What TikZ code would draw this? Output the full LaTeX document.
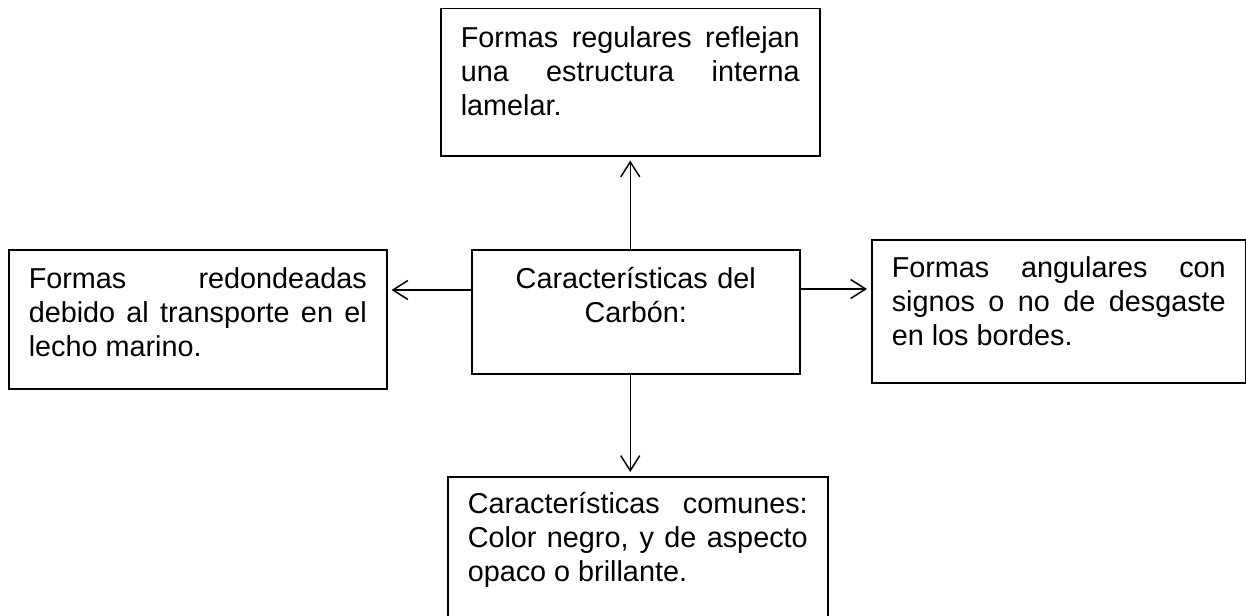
\documentclass[tikz,border=0pt]{standalone}
\usepackage{fontspec}
\setmainfont{Liberation Sans}
\usetikzlibrary{arrows.meta,calc}
\newcommand\boxfont{\fontsize{28.8pt}{33.8pt}\selectfont\hyphenpenalty=10000\relax\tolerance=9999\relax}
\tikzset{>={Straight Barb[length=15pt,width=19pt]},
  box/.style={draw,line width=1.5pt,anchor=north west,inner xsep=20pt,inner ysep=0pt,align=justify,
    font=\boxfont},
  tall/.style 2 args={text height=#1pt,text depth=#2pt},
  link/.style={->,line width=1.5pt,shorten >=4pt}}
\begin{document}
\begin{tikzpicture}[x=1pt,y=-1pt]
  \useasboundingbox (0,0) rectangle (1246,615);
  \clip (0,0) rectangle (1246,615);
  \node[box,tall={39}{108},text width=339pt] (regular) at (440,8)
    {Formas regulares reflejan\linebreak una estructura interna\linebreak lamelar.};
  \node[box,tall={39}{100},text width=338pt] (rounded) at (8,249)
    {Formas redondeadas\linebreak debido al transporte en el\linebreak lecho marino.};
  \node[box,tall={39}{85},text width=328pt,inner xsep=0pt,align=center] (carbon) at (471,249)
    {Características del\\Carbón:};
  \node[box,tall={38}{105},text width=334pt] (angular) at (871,239)
    {Formas angulares con\linebreak signos o no de desgaste\linebreak en los bordes.};
  \node[box,tall={37}{108},text width=340pt] (common) at (447,476)
    {Características comunes:\linebreak Color negro, y de aspecto\linebreak opaco o brillante.};
  \draw[link] (regular.south |- carbon.north) -- (regular.south);
  \draw[link] (regular.south |- carbon.south) -- (regular.south |- common.north);
  \draw[link] ($(carbon.north west)+(0,41)$) -- ($(rounded.north east)+(0,41)$);
  \draw[link] ($(carbon.north east)+(0,40)$) -- ($(angular.north west)+(0,50)$);
\end{tikzpicture}
\end{document}
